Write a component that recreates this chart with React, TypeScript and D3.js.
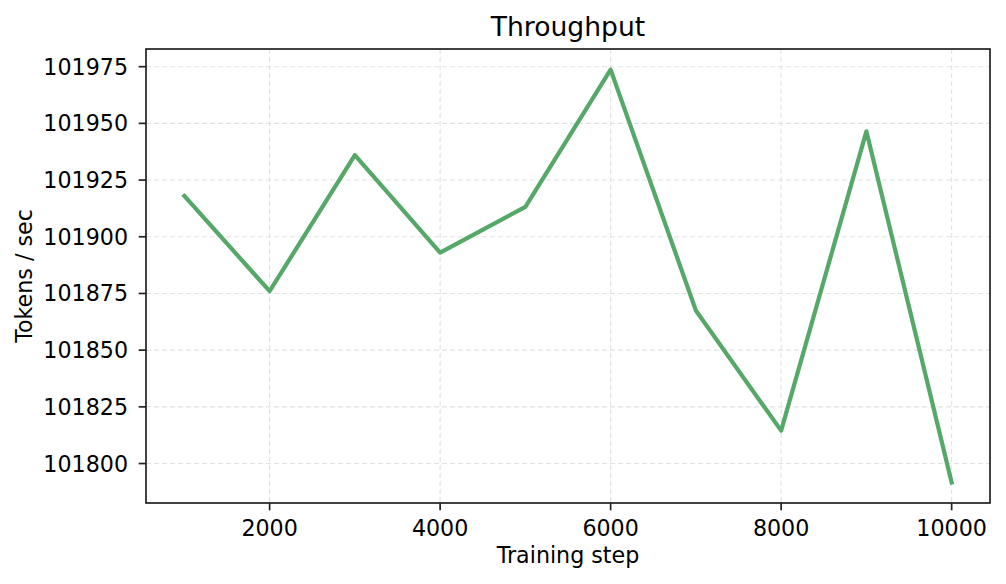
import React from "react";
import * as d3 from "d3";

const steps = [1000, 2000, 3000, 4000, 5000, 6000, 7000, 8000, 9000, 10000];
const tokensPerSec = [101918, 101876, 101936, 101893, 101913.2, 101973.7, 101867.5, 101814.5, 101946.5, 101791.7];
const xTicks = [2000, 4000, 6000, 8000, 10000];
const yTicks = [101800, 101825, 101850, 101875, 101900, 101925, 101950, 101975];

const W = 1006;
const H = 584;
const left = 146;
const right = 990;
const top = 49;
const bottom = 503;
const FONT = "DejaVu Sans, sans-serif";
const FS = 22.2;

export default function App() {
  const xMin = d3.min(steps)!, xMax = d3.max(steps)!;
  const yMin = d3.min(tokensPerSec)!, yMax = d3.max(tokensPerSec)!;
  const xm = (xMax - xMin) * 0.05;
  const ym = (yMax - yMin) * 0.05;
  const x = d3.scaleLinear().domain([xMin - xm, xMax + xm]).range([left, right]);
  const y = d3.scaleLinear().domain([yMin - ym, yMax + ym]).range([bottom, top]);
  const line = d3
    .line<number>()
    .x((_, i) => x(steps[i]))
    .y((d) => y(d));

  return (
    <svg
      width={W}
      height={H}
      style={{ position: "absolute", left: 0, top: 0, background: "#fff" }}
      fontFamily={FONT}
    >
      <rect x={0} y={0} width={W} height={H} fill="#fff" />
      {xTicks.map((t) => (
        <line key={"gx" + t} x1={x(t)} x2={x(t)} y1={top} y2={bottom} stroke="#e2e2e2" strokeWidth={1.1} strokeDasharray="5,3" />
      ))}
      {yTicks.map((t) => (
        <line key={"gy" + t} x1={left} x2={right} y1={y(t)} y2={y(t)} stroke="#e2e2e2" strokeWidth={1.1} strokeDasharray="5,3" />
      ))}
      <path d={line(tokensPerSec) || ""} fill="none" stroke="#55a868" strokeWidth={4.2} strokeLinejoin="round" strokeLinecap="square" />
      <rect x={left} y={top} width={right - left} height={bottom - top} fill="none" stroke="#222" strokeWidth={1.7} />
      {xTicks.map((t) => (
        <g key={"xt" + t}>
          <line x1={x(t)} x2={x(t)} y1={bottom} y2={bottom + 7.3} stroke="#222" strokeWidth={1.7} />
          <text x={x(t)} y={536} textAnchor="middle" fontSize={FS} fill="#000">
            {t}
          </text>
        </g>
      ))}
      {yTicks.map((t) => (
        <g key={"yt" + t}>
          <line x1={left - 7.3} x2={left} y1={y(t)} y2={y(t)} stroke="#222" strokeWidth={1.7} />
          <text x={128} y={y(t)} dy="0.36em" textAnchor="end" fontSize={FS} fill="#000">
            {t}
          </text>
        </g>
      ))}
      <text x={(left + right) / 2} y={35.7} textAnchor="middle" fontSize={26.6} fill="#000">
        Throughput
      </text>
      <text x={(left + right) / 2} y={563} textAnchor="middle" fontSize={FS} fill="#000">
        Training step
      </text>
      <text
        transform={`translate(32,${(top + bottom) / 2}) rotate(-90)`}
        textAnchor="middle"
        fontSize={FS}
        fill="#000"
      >
        Tokens / sec
      </text>
    </svg>
  );
}
